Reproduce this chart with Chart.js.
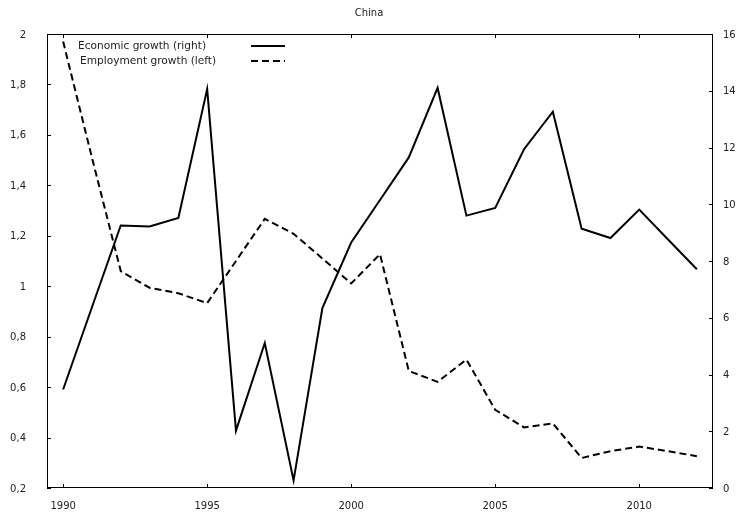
<!DOCTYPE html>
<html>
<head>
<meta charset="utf-8">
<script src="https://cdn.jsdelivr.net/npm/chart.js@4.4.1/dist/chart.umd.min.js"></script>
<style>
  html, body { margin: 0; padding: 0; background: #fff; }
  #wrap { width: 738px; height: 515px; }
</style>
</head>
<body>
<div id="wrap"><canvas id="chinaChart" width="738" height="515"></canvas></div>
<script>
// Values
const years = [1990, 1991, 1992, 1993, 1994, 1995, 1996, 1997, 1998, 1999, 2000, 2001,
               2002, 2003, 2004, 2005, 2006, 2007, 2008, 2009, 2010, 2011, 2012];
// economic growth, right axis (%)
const economicGrowth = [3.47, 6.37, 9.25, 9.22, 9.52, 14.06, 2.02, 5.11, 0.27, 6.34, 8.65, 10.15,
                        11.65, 14.10, 9.60, 9.87, 11.94, 13.26, 9.14, 8.81, 9.81, 8.76, 7.71];
// employment growth, left axis (%)
const employmentGrowth = [1.97, 1.51, 1.06, 0.994, 0.972, 0.933, 1.10, 1.267, 1.208, 1.11, 1.011, 1.127,
                          0.664, 0.621, 0.709, 0.510, 0.440, 0.456, 0.319, 0.346, 0.364, 0.346, 0.326];
const xTickYears = [1990, 1995, 2000, 2005, 2010];

const FONT = 'DejaVu Sans';
const TEXT = '#222';

// draws the border box, inward tick marks and the legend
const framePlugin = {
    id: 'frame',
    afterDraw(chart) {
        const { ctx, chartArea: a, scales } = chart;
        ctx.save();
        ctx.strokeStyle = '#000';
        ctx.lineWidth = 1;
        ctx.strokeRect(a.left + 0.5, a.top + 0.5, a.right - a.left - 1, a.bottom - a.top - 1);

        const tl = 4;
        ctx.beginPath();
        scales.yL.ticks.forEach(t => {
            const y = Math.round(scales.yL.getPixelForValue(t.value)) + 0.5;
            ctx.moveTo(a.left, y); ctx.lineTo(a.left + tl, y);
        });
        scales.yR.ticks.forEach(t => {
            const y = Math.round(scales.yR.getPixelForValue(t.value)) + 0.5;
            ctx.moveTo(a.right, y); ctx.lineTo(a.right - tl, y);
        });
        scales.x.ticks.forEach(t => {
            const x = Math.round(scales.x.getPixelForValue(t.value)) + 0.5;
            ctx.moveTo(x, a.bottom); ctx.lineTo(x, a.bottom - tl);
            ctx.moveTo(x, a.top); ctx.lineTo(x, a.top + tl);
        });
        ctx.stroke();

        // legend: label text first, line sample to the right
        const rows = [
            { ds: chart.data.datasets[0], tx: 78, y: 46 },
            { ds: chart.data.datasets[1], tx: 80, y: 61 }
        ];
        ctx.font = '10.6px "' + FONT + '"';
        ctx.textBaseline = 'middle';
        ctx.textAlign = 'left';
        rows.forEach(r => {
            ctx.fillStyle = TEXT;
            ctx.fillText(r.ds.label, r.tx, r.y);
            ctx.beginPath();
            ctx.strokeStyle = '#000';
            ctx.lineWidth = 2;
            ctx.setLineDash(r.ds.borderDash || []);
            ctx.moveTo(251, r.y);
            ctx.lineTo(285, r.y);
            ctx.stroke();
        });
        ctx.restore();
    }
};

const ctx = document.getElementById('chinaChart').getContext('2d');
new Chart(ctx, {
    type: 'line',
    data: {
        datasets: [{
            label: 'Economic growth (right)',
            data: years.map((y, i) => ({ x: y, y: economicGrowth[i] })),
            yAxisID: 'yR',
            borderColor: '#000',
            borderWidth: 2,
            pointRadius: 0,
            tension: 0,
            fill: false
        }, {
            label: 'Employment growth (left)',
            data: years.map((y, i) => ({ x: y, y: employmentGrowth[i] })),
            yAxisID: 'yL',
            borderColor: '#000',
            borderWidth: 2,
            borderDash: [7, 4],
            pointRadius: 0,
            tension: 0,
            fill: false
        }]
    },
    options: {
        responsive: false,
        animation: false,
        layout: { padding: 0 },
        plugins: {
            legend: { display: false },
            tooltip: { enabled: false },
            title: {
                display: true,
                text: 'China',
                color: TEXT,
                font: { family: FONT, size: 10, weight: 'normal' },
                padding: { top: 7, bottom: 15 }
            }
        },
        scales: {
            x: {
                type: 'linear',
                min: 1989.44,
                max: 2012.56,
                grid: { display: false, drawTicks: false },
                border: { display: false },
                afterBuildTicks: s => { s.ticks = xTickYears.map(v => ({ value: v })); },
                afterFit: s => { s.height = 24; },
                ticks: {
                    color: TEXT,
                    padding: 12,
                    maxRotation: 0,
                    font: { family: FONT, size: 10 },
                    callback: v => String(v)
                }
            },
            yL: {
                position: 'left',
                min: 0.2,
                max: 2,
                grid: { display: false, drawTicks: false },
                border: { display: false },
                afterFit: s => { s.width = 47; },
                ticks: {
                    stepSize: 0.2,
                    color: TEXT,
                    padding: 21,
                    labelOffset: 1,
                    font: { family: FONT, size: 10 },
                    callback: v => String(Number(v.toFixed(1))).replace('.', ',')
                }
            },
            yR: {
                position: 'right',
                min: 0,
                max: 16,
                grid: { display: false, drawTicks: false },
                border: { display: false },
                afterFit: s => { s.width = 25; },
                ticks: {
                    stepSize: 2,
                    color: TEXT,
                    padding: 10,
                    labelOffset: 1,
                    font: { family: FONT, size: 10 }
                }
            }
        }
    },
    plugins: [framePlugin]
});
</script>
</body>
</html>
